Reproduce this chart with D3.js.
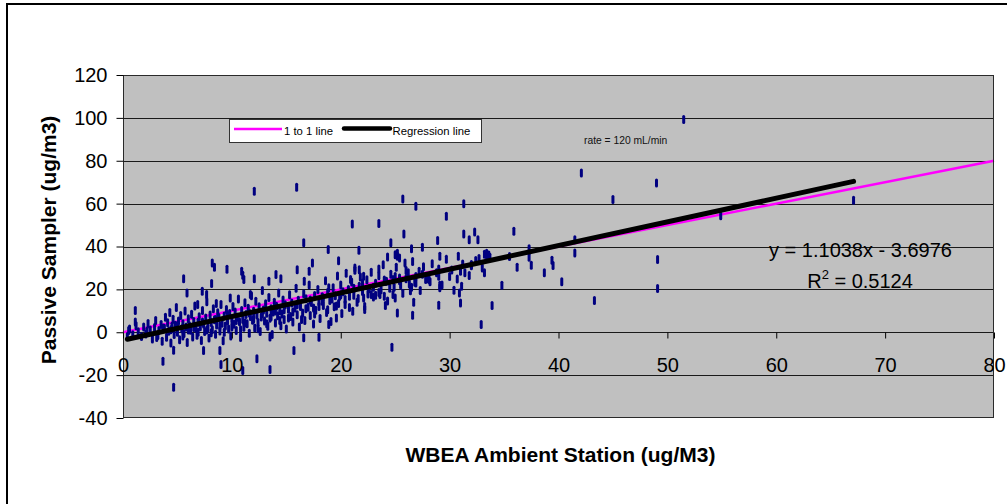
<!DOCTYPE html>
<html><head><meta charset="utf-8">
<script src="https://cdn.jsdelivr.net/npm/d3@7"></script>
<style>
body{margin:0;background:#fff}
text{font-family:"Liberation Sans",Arial,Helvetica,sans-serif}
</style>
</head><body>
<svg id="chart" width="1007" height="504"></svg>
<script>
// ---------- data ----------
const xTickValues = [0, 10, 20, 30, 40, 50, 60, 70, 80];
const yTickValues = [-40, -20, 0, 20, 40, 60, 80, 100, 120];
const xTitle = "WBEA Ambient Station (ug/M3)";
const yTitle = "Passive Sampler (ug/m3)";
const legendLabels = ["1 to 1 line", "Regression line"];
const noteText = "rate = 120 mL/min";
const regSlope = 1.1038;
const regIntercept = -3.6976;
const equationText = "y = 1.1038x - 3.6976";
const r2Value = "0.5124";
const oneToOne = [[0, 0], [80, 80]];

// [ambient station (x), passive sampler (y)]
const outlierSamples = [
 [8.2,32.3],[8.4,30.3],[9.55,29.4],[11.0,26.6],[11.1,24.6],[5.57,25.0],[5.88,18.3],[8.14,22.7],[7.28,19.1],[7.68,17.6],
 [9.85,16.0],[8.57,13.4],[6.86,12.9],[1.13,10.1],[1.13,4.8],[0.52,0.8],[3.67,-13.5],[4.65,-8.4],[4.65,-25.7],[7.4,-8.5],
 [8.9,-8.5],[9.0,-15.1],[11.0,-17.9],[12.06,65.8],[15.95,67.6],[21.06,50.5],[16.6,41.7],[18.85,38.6],[21.67,38.2],[19.8,33.4],
 [17.4,32.3],[17.1,28.5],[16.0,29.2],[21.3,28.9],[21.7,29.2],[20.9,24.6],[16.65,23.8],[14.5,24.9],[14.05,26.9],[13.4,23.8],
 [12.06,25.0],[10.9,28.5],[11.7,17.6],[15.7,-8.5],[18.0,-2.3],[18.9,3.6],[13.5,-2.2],[12.3,-12.4],[13.5,-17.4],[16.6,-2.6],
 [21.1,9.8],[19.6,6.7],[18.3,14.5],[17.5,11.3],[18.9,20.7],[19.9,16.8],[25.7,62.2],[26.9,58.8],[31.3,59.9],[29.7,54.1],
 [23.5,50.7],[25.8,45.8],[31.3,45.8],[32.3,46.8],[31.8,43.2],[32.6,43.2],[28.9,42.8],[24.6,41.7],[27.5,39.6],[26.5,38.9],
 [24.3,35.1],[25.2,35.4],[25.0,36.2],[25.4,34.6],[25.2,36.8],[29.1,35.4],[30.8,35.4],[25.9,32.3],[23.5,29.5],[27.2,28.5],
 [33.4,35.4],[33.2,36.4],[33.6,34.8],[33.4,36.9],[32.7,34.4],[33.2,27.7],[31.4,27.7],[22.1,26.1],[26.2,27.7],[29.0,26.1],
 [24.8,24.6],[25.4,25.3],[24.2,23.8],[27.8,24.6],[28.1,24.6],[26.9,23.0],[26.5,21.0],[26.4,19.4],[29.1,21.9],[29.1,20.7],
 [30.4,19.6],[30.9,18.3],[31.1,21.5],[31.0,13.7],[32.0,31.6],[22.8,17.6],[23.2,17.3],[23.6,17.6],[24.0,16.8],[24.1,12.5],
 [24.8,17.6],[25.0,16.0],[25.2,9.0],[22.1,16.0],[22.2,10.6],[26.7,14.0],[26.6,7.9],[29.0,12.6],[33.9,12.5],[32.9,3.6],
 [24.7,-7.0],[51.5,99.2],[42.1,74.3],[49.0,69.6],[45.0,61.9],[35.9,47.1],[41.5,43.2],[41.5,37.0],[37.3,38.9],[37.3,35.0],
 [35.5,35.3],[33.7,35.0],[36.2,30.3],[37.5,31.3],[39.4,33.6],[39.5,31.1],[38.7,27.7],[40.3,23.5],[34.8,21.9],[43.3,14.8],
 [49.1,33.9],[49.1,20.4],[54.9,54.4],[67.1,61.6],[0.4,-2.0]
];
const clusterSamples = [
 [0.6,1.5],[0.9,-1.2],[1.2,3.0],[1.4,0.2],[1.7,-2.0],[1.9,2.5],[2.1,-0.8],[2.3,4.1],[2.5,1.0],[2.7,-3.1],
 [2.9,2.2],[3.0,5.5],[3.2,-1.5],[3.3,0.8],[3.5,3.6],[3.6,-4.2],[3.8,1.9],[3.9,7.0],[4.0,-2.3],[4.1,4.4],
 [4.2,0.5],[4.3,9.2],[4.4,-5.0],[4.5,2.8],[4.6,6.1],[4.7,-1.0],[4.8,3.3],[4.9,11.5],[5.0,0.0],[5.1,5.2],
 [5.2,-3.5],[5.3,7.8],[5.4,1.6],[5.5,4.0],[5.6,-0.6],[5.7,9.9],[5.8,2.4],[5.9,-4.8],[6.0,6.3],[6.1,3.0],
 [6.2,0.9],[6.3,8.4],[6.4,-2.2],[6.5,5.0],[6.6,12.3],[6.7,1.8],[6.8,-1.4],[6.9,4.7],[7.0,7.2],[7.1,2.6],
 [7.2,-3.8],[7.3,10.1],[7.4,3.9],[7.5,0.4],[7.6,6.6],[7.7,14.2],[7.8,2.0],[7.9,-2.7],[8.0,8.0],[8.1,4.5],
 [8.2,1.2],[8.3,11.0],[8.4,5.8],[8.5,-0.9],[8.6,3.4],[8.7,9.1],[8.8,6.9],[8.9,0.6],[9.0,13.0],[9.1,4.2],
 [9.2,-4.0],[9.3,7.6],[9.4,2.9],[9.5,10.6],[9.6,5.3],[9.7,1.5],[9.8,8.8],[9.9,-1.8],[10.0,6.2],[10.1,12.0],
 [10.2,3.7],[10.3,9.5],[10.4,0.8],[10.5,7.0],[10.6,15.5],[10.7,4.9],[10.8,-2.5],[10.9,10.2],[11.0,6.0],[11.1,2.3],
 [11.2,13.8],[11.3,8.3],[11.4,4.0],[11.5,11.2],[11.6,-0.5],[11.7,7.4],[11.8,17.0],[11.9,5.6],[12.0,9.8],[12.1,2.0],
 [12.2,14.5],[12.3,8.0],[12.4,4.6],[12.5,11.9],[12.6,0.3],[12.7,7.1],[12.8,19.5],[12.9,10.4],[13.0,5.2],[13.1,13.3],
 [13.2,8.9],[13.3,2.8],[13.4,16.2],[13.5,6.5],[13.6,11.0],[13.7,-1.0],[13.8,9.4],[13.9,14.0],[14.0,4.3],[14.1,12.1],
 [14.2,7.7],[14.3,18.3],[14.4,10.0],[14.5,3.0],[14.6,8.5],[14.7,15.0],[14.8,6.0],[14.9,12.8],[15.0,1.5],[15.2,10.7],
 [15.3,17.5],[15.4,7.3],[15.5,13.6],[15.6,4.8],[15.8,11.3],[15.9,20.5],[16.0,8.2],[16.1,14.9],[16.2,2.5],[16.3,12.0],
 [16.5,9.0],[16.6,18.0],[16.7,5.5],[16.8,15.6],[17.0,11.7],[17.1,22.0],[17.2,7.8],[17.3,13.9],[17.5,3.8],[17.6,17.2],
 [17.7,10.3],[17.9,19.9],[18.0,14.2],[18.1,6.4],[18.3,16.6],[18.4,12.5],[18.6,24.0],[18.7,9.2],[18.8,18.5],[19.0,14.8],
 [19.1,5.0],[19.3,20.8],[19.4,11.9],[19.5,17.0],[19.7,26.2],[19.8,13.4],[20.0,22.0],[20.1,8.7],[20.2,18.9],[20.4,15.3],
 [20.5,27.5],[20.7,20.0],[20.8,11.5],[21.0,23.4],[21.2,17.3],[21.3,30.0],[21.5,14.0],[21.7,21.5],[21.8,25.8],[22.0,19.0],
 [22.2,12.0],[22.4,24.5],[22.6,20.3],[22.8,28.0],[23.0,16.5],[23.2,22.8],[23.5,26.4],[23.7,19.8],[23.9,31.5],[24.1,23.7],
 [24.3,14.6],[24.6,27.0],[24.9,21.0],[25.1,30.3],[25.4,24.0],[25.7,18.2],[26.0,28.8],[26.3,22.5],[26.6,33.0],[26.9,26.0],
 [27.3,19.5],[27.6,30.5],[28.0,25.0],[28.4,32.0],[28.8,27.8],[29.3,22.0],[29.7,34.0],[30.2,29.0],[30.7,24.8],[31.2,31.8],
 [31.8,26.5],[32.4,33.5],[33.0,30.0],[33.6,36.0],
 [2.2,0.5],[3.1,-2.5],[3.7,2.0],[4.4,1.2],[5.0,3.1],[5.5,-1.8],[6.0,1.0],[6.5,2.2],[6.9,0.0],[7.3,4.8],
 [7.7,1.0],[8.1,-0.2],[8.5,5.9],[8.9,3.0],[9.3,0.0],[9.6,7.9],[10.0,2.5],[10.4,5.5],[10.8,1.2],[11.2,4.3],
 [11.6,9.0],[12.0,6.2],[12.4,1.6],[12.8,8.6],[13.2,4.0],[13.6,7.2],[14.0,9.9],[14.4,5.5],[14.8,10.5],[15.2,6.7],
 [15.6,9.5],[16.0,12.8],[16.4,6.0],[16.8,11.0],[17.2,15.0],[17.6,8.5],[18.0,12.0],[18.4,16.0],[18.8,10.5],[19.2,15.5],
 [19.6,12.2],[20.0,17.5],[20.4,13.0],[20.8,16.8],[21.2,20.5],[21.6,15.8],[22.0,23.0],[22.5,17.8],[23.0,21.0],[23.5,18.5],
 [24.0,24.4],[24.5,20.5],[25.0,26.0],[25.5,22.0],[26.0,25.0],[26.8,23.3],[27.5,27.0],[28.2,23.5],[29.0,29.5],[30.0,26.0],
 [31.0,28.5],[32.0,31.0]
];
const samples = outlierSamples.concat(clusterSamples);

// ---------- layout ----------
const plot = {left: 123, right: 994, top: 75, bottom: 418};
const svg = d3.select("#chart");
const x = d3.scaleLinear().domain([0, 80]).range([plot.left, plot.right]);
const y = d3.scaleLinear().domain([-40, 120]).range([plot.bottom, plot.top]);
const plainFormat = d => String(d);

// outer frame
svg.append("rect").attr("x", 7).attr("y", 4).attr("width", 1100).attr("height", 600)
  .attr("fill", "#fff").attr("stroke", "#000").attr("stroke-width", 2);

// plot background
svg.append("rect").attr("x", plot.left).attr("y", plot.top)
  .attr("width", plot.right - plot.left).attr("height", plot.bottom - plot.top)
  .attr("fill", "#c0c0c0");

// gridlines
svg.append("g").selectAll("line").data(yTickValues.filter(v => v > -40 && v < 120)).join("line")
  .attr("x1", plot.left).attr("x2", plot.right)
  .attr("y1", d => Math.round(y(d)) + 0.5).attr("y2", d => Math.round(y(d)) + 0.5)
  .attr("stroke", "#1a1a1a").attr("stroke-width", 1);

const line = d3.line().x(d => x(d[0])).y(d => y(d[1]));

// 1 to 1 line
svg.append("path").datum(oneToOne).attr("d", line)
  .attr("stroke", "#ff00ff").attr("stroke-width", 2.5).attr("fill", "none");

// points
svg.append("g").selectAll("rect").data(samples).join("rect")
  .attr("x", d => x(d[0]) - 1.5).attr("y", d => y(d[1]) - 4.5)
  .attr("width", 3).attr("height", 9).attr("rx", 1.5)
  .attr("fill", "#000080");

// regression line
const xExt = d3.extent(samples, d => d[0]);
const regData = xExt.map(v => [v, regSlope * v + regIntercept]);
svg.append("path").datum(regData).attr("d", line)
  .attr("stroke", "#000").attr("stroke-width", 5).attr("stroke-linecap", "round").attr("fill", "none");

// plot border
svg.append("rect").attr("x", plot.left + 0.5).attr("y", plot.top + 0.5)
  .attr("width", plot.right - plot.left - 1).attr("height", plot.bottom - plot.top - 1)
  .attr("fill", "none").attr("stroke", "#2a2a2a").attr("stroke-width", 1);

// axes
const yAxis = d3.axisLeft(y).tickValues(yTickValues).tickFormat(plainFormat)
  .tickSize(7).tickSizeOuter(0).tickPadding(9);
const gy = svg.append("g").attr("transform", `translate(${plot.left + 0.5},0)`).call(yAxis);
gy.selectAll("text").attr("font-size", 20).attr("fill", "#000")
  .style("font-family", '"Liberation Sans",Arial,sans-serif');
gy.selectAll("line,path").attr("stroke", "#000");

const xAxis = d3.axisBottom(x).tickValues(xTickValues).tickFormat(plainFormat)
  .tickSize(6).tickSizeOuter(0).tickPadding(19.5);
const gx = svg.append("g").attr("transform", `translate(0,${Math.round(y(0)) + 0.5})`).call(xAxis);
gx.selectAll("text").attr("font-size", 20).attr("fill", "#000")
  .style("font-family", '"Liberation Sans",Arial,sans-serif');
gx.selectAll("line,path").attr("stroke", "#000");
gy.select(".domain").remove();
gx.select(".domain").remove();

// axis titles
svg.append("text").attr("x", (plot.left + plot.right) / 2 + 2).attr("y", 462)
  .attr("text-anchor", "middle").attr("font-size", 21).attr("font-weight", "bold").text(xTitle);
svg.append("text").attr("transform", "translate(56,240) rotate(-90)")
  .attr("text-anchor", "middle").attr("font-size", 21).attr("font-weight", "bold").text(yTitle);

// legend
const lg = svg.append("g");
lg.append("rect").attr("x", 229.5).attr("y", 119.5).attr("width", 252).attr("height", 23)
  .attr("fill", "#fff").attr("stroke", "#333").attr("stroke-width", 1);
lg.append("line").attr("x1", 234).attr("x2", 282).attr("y1", 129).attr("y2", 129)
  .attr("stroke", "#ff00ff").attr("stroke-width", 2.5);
lg.append("text").attr("x", 284).attr("y", 134.5).attr("font-size", 11.3).text(legendLabels[0]);
lg.append("line").attr("x1", 344).attr("x2", 390).attr("y1", 128.5).attr("y2", 128.5)
  .attr("stroke", "#000").attr("stroke-width", 4.5).attr("stroke-linecap", "round");
lg.append("text").attr("x", 392.5).attr("y", 134.5).attr("font-size", 11.3).text(legendLabels[1]);

// note
svg.append("text").attr("x", 584).attr("y", 143.5).attr("font-size", 10.3).attr("fill", "#111").text(noteText);

// equation
svg.append("text").attr("x", 860.5).attr("y", 257).attr("text-anchor", "middle")
  .attr("font-size", 20).text(equationText);
const r2 = svg.append("text").attr("x", 860).attr("y", 288).attr("text-anchor", "middle").attr("font-size", 20);
r2.append("tspan").text("R");
r2.append("tspan").attr("font-size", 13).attr("dy", -9).text("2");
r2.append("tspan").attr("dy", 9).text(" = " + r2Value);
</script>
</body></html>
